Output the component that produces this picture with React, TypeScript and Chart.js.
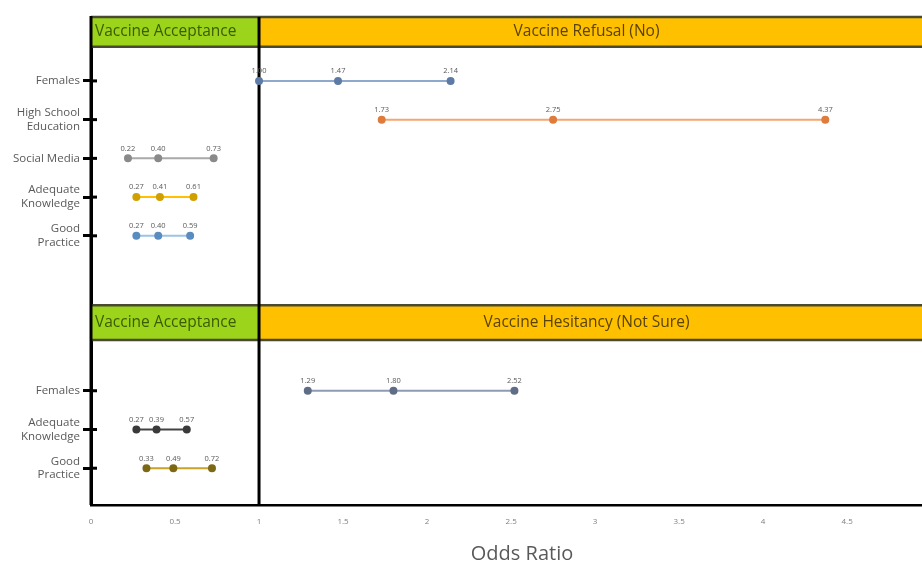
import React, { useEffect, useRef } from "react";
import { Chart, registerables } from "chart.js";

Chart.register(...registerables);

// ---- data ----
const topCategories = ["Females", "High School\nEducation", "Social Media", "Adequate\nKnowledge", "Good\nPractice"];
const topLower = [1.0, 1.73, 0.22, 0.27, 0.27];
const topOR = [1.47, 2.75, 0.4, 0.41, 0.4];
const topUpper = [2.14, 4.37, 0.73, 0.61, 0.59];

const bottomCategories = ["Females", "Adequate\nKnowledge", "Good\nPractice"];
const bottomLower = [1.29, 0.27, 0.33];
const bottomOR = [1.8, 0.39, 0.49];
const bottomUpper = [2.52, 0.57, 0.72];

const xTickValues = [0, 0.5, 1, 1.5, 2, 2.5, 3, 3.5, 4, 4.5];
const leftPanelTitle = "Vaccine Acceptance";
const rightPanelTitles = ["Vaccine Refusal (No)", "Vaccine Hesitancy (Not Sure)"];
const axisTitle = "Odds Ratio";

// ---- styles / layout ----
const FONT = "'Open Sans', 'Liberation Sans', sans-serif";
const topLineColors = ["#8ea9cc", "#f5a66f", "#a9a9a9", "#ffc000", "#9dc3e6"];
const topPointColors = ["#5d7ba6", "#df7c3c", "#8a8a8a", "#cfa000", "#5a8cc0"];
const bottomLineColors = ["#8d9cb4", "#444444", "#c9a227"];
const bottomPointColors = ["#5f6d86", "#3a3a3a", "#7d6814"];
const TOP_ROW_START = 2;
const BOTTOM_ROW_START = 10;
const Y_MIN = 0.35;
const Y_MAX = 12.95;
const X_MAX = 5.13;
const VIEW_W = 922;
const CANVAS_W = 953;
const CANVAS_H = 562;
const bands = [
  { from: 0.35, to: 1.12 },
  { from: 7.79, to: 8.69 },
];

const rowPositions = [
  ...topCategories.map((_, i) => TOP_ROW_START + i),
  ...bottomCategories.map((_, i) => BOTTOM_ROW_START + i),
];
const rowLabels = [...topCategories, ...bottomCategories];

function buildDatasets() {
  const ds: any[] = [];
  topCategories.forEach((_, i) => {
    const y = TOP_ROW_START + i;
    ds.push({
      data: [
        { x: topLower[i], y },
        { x: topOR[i], y },
        { x: topUpper[i], y },
      ],
      showLine: true,
      borderColor: topLineColors[i],
      borderWidth: 2,
      pointBackgroundColor: topPointColors[i],
      pointBorderColor: topPointColors[i],
      pointRadius: 3,
    });
  });
  bottomCategories.forEach((_, i) => {
    const y = BOTTOM_ROW_START + i;
    ds.push({
      data: [
        { x: bottomLower[i], y },
        { x: bottomOR[i], y },
        { x: bottomUpper[i], y },
      ],
      showLine: true,
      borderColor: bottomLineColors[i],
      borderWidth: 2,
      pointBackgroundColor: bottomPointColors[i],
      pointBorderColor: bottomPointColors[i],
      pointRadius: 3,
    });
  });
  return ds;
}

const overlayPlugin = {
  id: "overlay",
  beforeDatasetsDraw(chart: any) {
    const { ctx, chartArea, scales } = chart;
    const xs = scales.x;
    const ys = scales.y;
    const x1 = xs.getPixelForValue(1);
    const visibleRight = Math.min(chartArea.right, VIEW_W);
    ctx.save();
    bands.forEach((b, bi) => {
      const t = ys.getPixelForValue(b.from);
      const btm = ys.getPixelForValue(b.to);
      ctx.fillStyle = "#9bd41a";
      ctx.fillRect(chartArea.left, t, x1 - chartArea.left, btm - t);
      ctx.fillStyle = "#ffc000";
      ctx.fillRect(x1, t, chartArea.right - x1, btm - t);
      ctx.strokeStyle = "#4a4a32";
      ctx.lineWidth = 2.5;
      ctx.beginPath();
      ctx.moveTo(chartArea.left, t);
      ctx.lineTo(chartArea.right, t);
      ctx.moveTo(chartArea.left, btm);
      ctx.lineTo(chartArea.right, btm);
      ctx.stroke();
      const mid = (t + btm) / 2;
      ctx.font = `15.5px ${FONT}`;
      ctx.textBaseline = "middle";
      ctx.textAlign = "left";
      ctx.fillStyle = "#3b5c00";
      ctx.fillText(leftPanelTitle, chartArea.left + 4, mid);
      ctx.textAlign = "center";
      ctx.fillStyle = "#5a4300";
      ctx.fillText(rightPanelTitles[bi], (x1 + visibleRight) / 2 - 4, mid);
    });
    // reference line at OR = 1
    ctx.strokeStyle = "#000";
    ctx.lineWidth = 3;
    ctx.beginPath();
    ctx.moveTo(x1, chartArea.top);
    ctx.lineTo(x1, chartArea.bottom);
    ctx.stroke();
    // left axis line (redrawn over bands)
    ctx.beginPath();
    ctx.moveTo(chartArea.left, chartArea.top - 1);
    ctx.lineTo(chartArea.left, chartArea.bottom);
    ctx.stroke();
    // inner tick stubs
    rowPositions.forEach((r) => {
      const py = ys.getPixelForValue(r);
      ctx.beginPath();
      ctx.moveTo(chartArea.left, py);
      ctx.lineTo(chartArea.left + 6, py);
      ctx.stroke();
    });
    ctx.restore();
  },
  afterDatasetsDraw(chart: any) {
    const { ctx } = chart;
    ctx.save();
    ctx.font = `7.5px ${FONT}`;
    ctx.fillStyle = "#595959";
    ctx.textAlign = "center";
    ctx.textBaseline = "bottom";
    chart.data.datasets.forEach((ds: any, di: number) => {
      const meta = chart.getDatasetMeta(di);
      meta.data.forEach((pt: any, pi: number) => {
        ctx.fillText(ds.data[pi].x.toFixed(2), pt.x, pt.y - 6);
      });
    });
    ctx.restore();
  },
};

export default function App() {
  const ref = useRef<HTMLCanvasElement | null>(null);
  useEffect(() => {
    if (!ref.current) return;
    const chart = new Chart(ref.current, {
      type: "scatter",
      data: { datasets: buildDatasets() },
      options: {
        animation: false,
        responsive: false,
        maintainAspectRatio: false,
        layout: { autoPadding: false, padding: { top: 17, left: 0, right: 0, bottom: 0 } },
        plugins: { legend: { display: false }, tooltip: { enabled: false } },
        scales: {
          x: {
            type: "linear",
            min: 0,
            max: X_MAX,
            position: "bottom",
            afterBuildTicks: (s: any) => {
              s.ticks = xTickValues.map((v) => ({ value: v }));
            },
            afterFit: (s: any) => {
              s.height = 57;
              s.paddingLeft = 0;
              s.paddingRight = 0;
            },
            ticks: {
              font: { size: 8, family: FONT },
              color: "#7f7f7f",
              padding: 12,
              autoSkip: false,
              maxRotation: 0,
              callback: (v: any) => String(v),
            },
            grid: { display: false, drawTicks: false },
            border: { display: true, color: "#000", width: 2.5 },
            title: {
              display: true,
              text: axisTitle,
              font: { size: 20, family: FONT },
              color: "#595959",
              padding: { top: 0, bottom: -4 },
            },
          },
          y: {
            type: "linear",
            reverse: true,
            min: Y_MIN,
            max: Y_MAX,
            afterBuildTicks: (s: any) => {
              s.ticks = rowPositions.map((v) => ({ value: v }));
            },
            afterFit: (s: any) => {
              s.width = 91;
              s.paddingTop = 0;
              s.paddingBottom = 0;
            },
            ticks: {
              autoSkip: false,
              font: { size: 11.5, family: FONT },
              color: "#595959",
              padding: 3,
              callback: (_v: any, i: number) => rowLabels[i].split("\n"),
            },
            grid: { drawOnChartArea: false, drawTicks: true, tickLength: 8, tickWidth: 3, tickColor: "#000" },
            border: { display: true, color: "#000", width: 3 },
          },
        },
      },
      plugins: [overlayPlugin],
    } as any);
    return () => chart.destroy();
  }, []);
  return (
    <div
      style={{
        position: "fixed",
        left: 0,
        top: 0,
        width: VIEW_W,
        height: CANVAS_H,
        background: "#fff",
        overflow: "hidden",
      }}
    >
      <canvas ref={ref} width={CANVAS_W} height={CANVAS_H} style={{ display: "block" }} />
    </div>
  );
}
